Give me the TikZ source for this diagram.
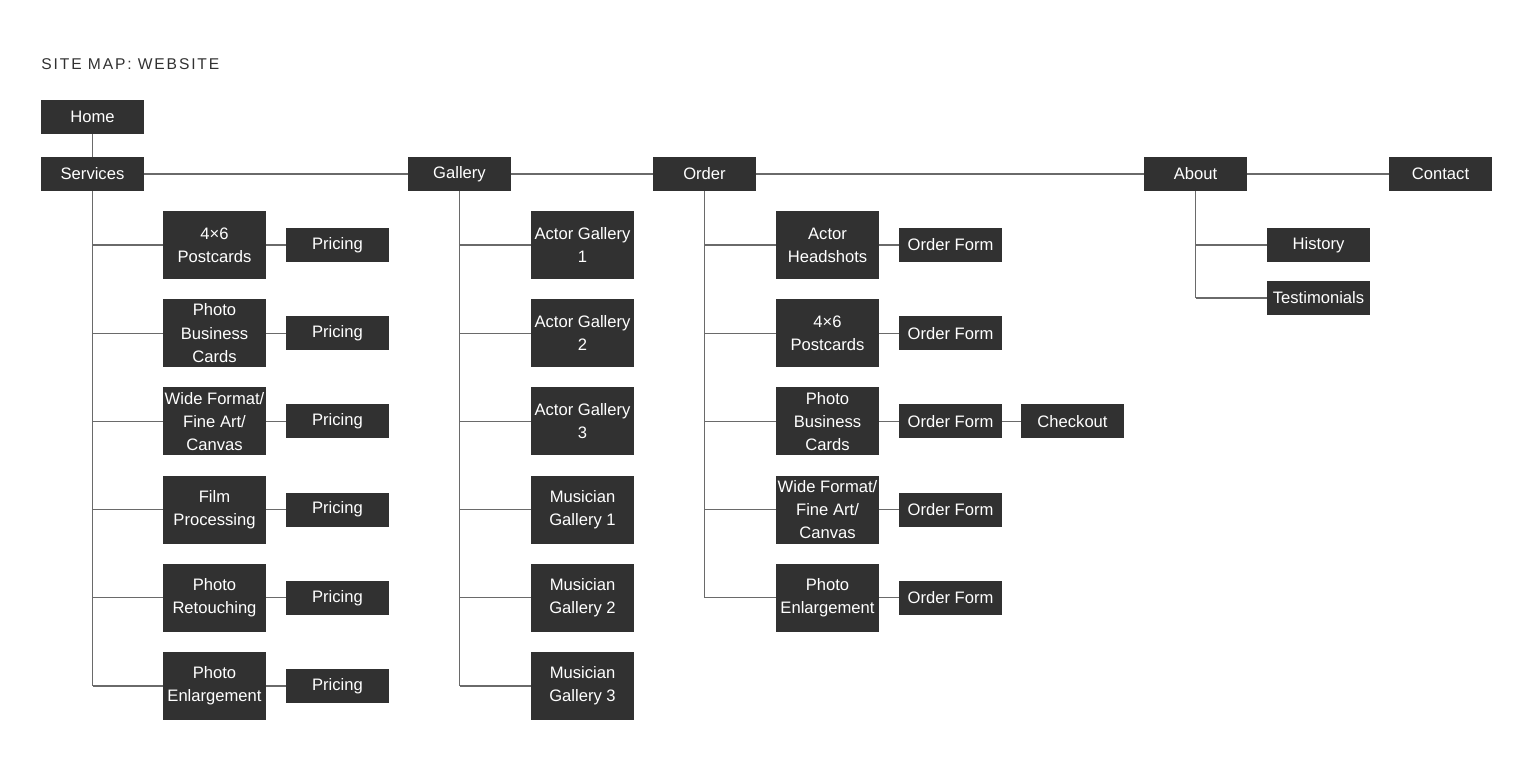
\documentclass[tikz,border=0pt]{standalone}
\usepackage{fontspec}
\setmainfont{Liberation Sans}
\definecolor{boxgray}{HTML}{313131}
\definecolor{linegray}{HTML}{6A6A6A}
\begin{document}
\begin{tikzpicture}[x=0.5pt,y=-0.5pt,
  page/.style={fill=boxgray,text=white,inner sep=0pt,minimum width=51.5pt,
    minimum height=17pt,align=center,font=\fontsize{8.3}{11.6}\selectfont},
  tall/.style={page,minimum height=34pt},
  link/.style={draw=linegray,line width=0.6pt}]
\useasboundingbox (0,0) rectangle (1534,766);

\node [anchor=base west,inner sep=0pt,text=boxgray,
  font=\fontsize{7.8}{9}\selectfont\addfontfeature{LetterSpace=12}]
  (title) at (41,69) {SITE MAP: WEBSITE};

% top level
\node [page] (home) at (92.5,117) {Home};
\node [page] (srv) at (92.5,174) {Services};
\node [page] (gal) at (459.5,174) {Gallery};
\node [page] (ord) at (704.5,174) {Order};
\node [page] (abt) at (1195.5,174) {About};
\node [page] (con) at (1440.5,174) {Contact};

% services
\node [tall] (sv1) at (214.5,245) {4×6\\Postcards};
\node [tall] (sv2) at (214.5,333.2) {Photo\\Business\\Cards};
\node [tall] (sv3) at (214.5,421.4) {Wide Format/\\Fine Art/\\Canvas};
\node [tall] (sv4) at (214.5,509.6) {Film\\Processing};
\node [tall] (sv5) at (214.5,597.8) {Photo\\Retouching};
\node [tall] (sv6) at (214.5,686) {Photo\\Enlargement};
\foreach \i in {1,...,6}
  \node [page] (pr\i) at (337.5,0 |- sv\i) {Pricing};

% gallery
\node [tall] (ga1) at (582.5,245) {Actor Gallery\\1};
\node [tall] (ga2) at (582.5,333.2) {Actor Gallery\\2};
\node [tall] (ga3) at (582.5,421.4) {Actor Gallery\\3};
\node [tall] (ga4) at (582.5,509.6) {Musician\\Gallery 1};
\node [tall] (ga5) at (582.5,597.8) {Musician\\Gallery 2};
\node [tall] (ga6) at (582.5,686) {Musician\\Gallery 3};

% order
\node [tall] (or1) at (827.5,245) {Actor\\Headshots};
\node [tall] (or2) at (827.5,333.2) {4×6\\Postcards};
\node [tall] (or3) at (827.5,421.4) {Photo\\Business\\Cards};
\node [tall] (or4) at (827.5,509.6) {Wide Format/\\Fine Art/\\Canvas};
\node [tall] (or5) at (827.5,597.8) {Photo\\Enlargement};
\foreach \i in {1,...,5}
  \node [page] (of\i) at (950.5,0 |- or\i) {Order Form};
\node [page] (chk) at (1072.5,421.4) {Checkout};

% about
\node [page] (his) at (1318.5,245) {History};
\node [page] (tes) at (1318.5,298) {Testimonials};

% connectors
\draw [link] (home) -- (srv);
\draw [link] (srv) -- (gal) -- (ord) -- (abt) -- (con);
\draw [link] (srv.south) -- (srv.south |- sv6.west);
\draw [link] (gal.south) -- (gal.south |- ga6.west);
\draw [link] (ord.south) -- (ord.south |- or5.west);
\draw [link] (abt.south) -- (abt.south |- tes.west);
\foreach \i in {1,...,6} {
  \draw [link] (srv.south |- sv\i.west) -- (sv\i.west);
  \draw [link] (sv\i) -- (pr\i);
  \draw [link] (gal.south |- ga\i.west) -- (ga\i.west);
}
\foreach \i in {1,...,5} {
  \draw [link] (ord.south |- or\i.west) -- (or\i.west);
  \draw [link] (or\i) -- (of\i);
}
\draw [link] (of3) -- (chk);
\draw [link] (abt.south |- his.west) -- (his.west);
\draw [link] (abt.south |- tes.west) -- (tes.west);
\end{tikzpicture}
\end{document}
